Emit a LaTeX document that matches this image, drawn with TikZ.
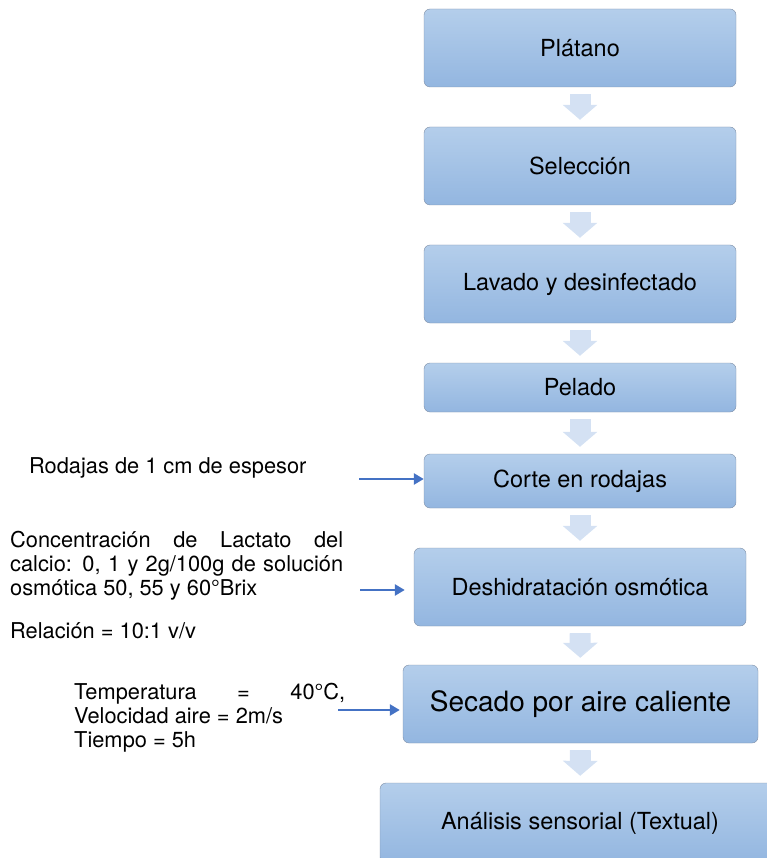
\documentclass[tikz,border=0pt]{standalone}
\usepackage{fontspec}
\setmainfont{TeX Gyre Heros}
\usetikzlibrary{arrows.meta}
\definecolor{boxtop}{HTML}{B4CEEB}
\definecolor{boxbot}{HTML}{93B6E0}
\definecolor{boxline}{HTML}{7F8FA6}
\definecolor{stepfill}{HTML}{D4E1F3}
\definecolor{feedline}{HTML}{4472C4}

\begin{document}
\begin{tikzpicture} [
  x=1pt, y=-1pt,
  font=\fontsize{21.8}{24}\selectfont,
  proc node/.style={rectangle,draw=boxline,rounded corners=6pt,
    top color=boxtop,bottom color=boxbot,inner sep=0pt,
    font=\fontsize{23.5}{28}\selectfont,
    minimum width=312pt,minimum height=78pt},
  down arrow/.style={color=stepfill,line width=21pt,
    -{Triangle[width=34pt,length=15pt]},shorten <=7pt,shorten >=7pt},
  feed arrow/.style={draw=feedline,line width=2.6pt,
    -{Triangle[width=11pt,length=10pt]}},
  note/.style={anchor=north west,inner sep=0pt,align=justify},
  ]

  \useasboundingbox (0,0) rectangle (766,858);

  \node[proc node] (platano) at (580,48) {Plátano};
  \node[proc node] (seleccion) at (580,166) {Selección};
  \node[proc node] (lavado) at (580,284) {Lavado y desinfectado};
  \node[proc node, minimum height=49pt] (pelado) at (580,387.5) {Pelado};
  \node[proc node, minimum height=54pt] (corte) at (580,481) {Corte en rodajas};
  \node[proc node, minimum width=332pt] (deshid) at (580,587)
    {Deshidratación osmótica};
  \node[proc node, minimum width=355pt, font=\fontsize{28}{32}\selectfont]
    (secado) at (580.5,704) {Secado por aire caliente};
  \node[proc node, minimum width=400pt, minimum height=80pt] (analisis)
    at (580,823) {Análisis sensorial (Textual)};

  \path[down arrow]
    (platano) edge (seleccion)
    (seleccion) edge (lavado)
    (lavado) edge (pelado)
    (pelado) edge (corte)
    (corte) edge (deshid)
    (deshid) edge (secado)
    (secado) edge (analisis);

  % conditions on the left
  \node[anchor=west, inner sep=0pt] (rodajas) at (29,468)
    {Rodajas de 1 cm de espesor};
  \node[note, text width=333pt] (lactato) at (10,531)
    {Concentración de Lactato del\linebreak calcio: 0, 1 y 2g/100g de
     solución\linebreak osmótica 50, 55 y 60°Brix};
  \node[anchor=west, inner sep=0pt] (relacion) at (10,631)
    {Relación = 10:1 v/v};
  \node[note, text width=271pt] (aire) at (74,683)
    {Temperatura = 40°C,\linebreak Velocidad aire = 2m/s\\ Tiempo = 5h};

  \coordinate (c1) at (359,479);
  \coordinate (c2) at (360,590);
  \coordinate (c3) at (338,710);
  \draw[feed arrow] (c1) -- (c1 -| corte.west);
  \draw[feed arrow] (c2) -- ([xshift=-9pt]c2 -| deshid.west);
  \draw[feed arrow] (c3) -- ([xshift=-3pt]c3 -| secado.west);
\end{tikzpicture}
\end{document}
